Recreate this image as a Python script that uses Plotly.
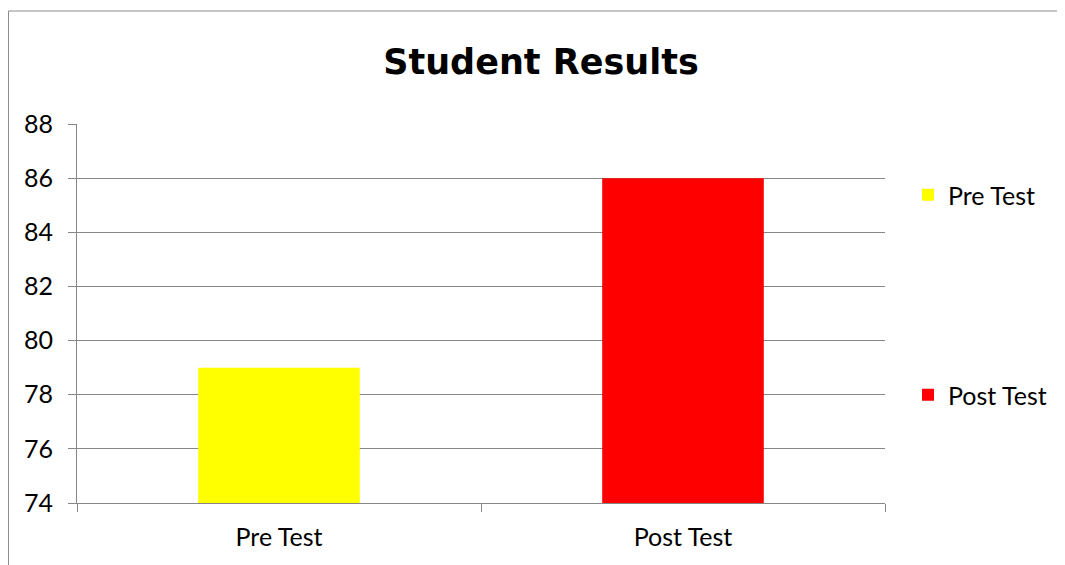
import plotly.graph_objects as go

categories = ["Pre Test", "Post Test"]
values = [79, 86]
colors = ["#FFFF00", "#FF0000"]
y_ticks = [74, 76, 78, 80, 82, 84, 86, 88]

# page body has an 8px margin; work in reference-pixel coordinates
OFF = 8
W, H = 1065 - OFF, 565 - OFF
L, R, T, B = 77, 885, 124, 503   # plot area in reference pixels
pw, ph = R - L, B - T

def px(x):
    return (x - L) / pw

def py(y):
    return (B - y) / ph

FONT = "Lato"
FS = 25

fig = go.Figure()
fig.add_trace(go.Bar(x=[categories[0]], y=[values[0]], name=categories[0],
                     marker=dict(color=colors[0], line=dict(width=0)),
                     legend="legend"))
fig.add_trace(go.Bar(x=[categories[1]], y=[values[1]], name=categories[1],
                     marker=dict(color=colors[1], line=dict(width=0)),
                     legend="legend2"))

fig.update_layout(
    width=W, height=H,
    margin=dict(l=L - OFF, r=1065 - R, t=T - OFF, b=565 - B),
    paper_bgcolor="white", plot_bgcolor="white",
    showlegend=True,
    barmode="overlay", bargap=0.6,
    font=dict(family=FONT, size=FS, color="#000000"),
    title=dict(text="<b>Student Results</b>", x=px(541), xref="paper",
               xanchor="center", y=1 - (62 - OFF) / H, yanchor="middle",
               font=dict(family="DejaVu Sans", size=35, color="#000000")),
    xaxis=dict(showgrid=False, showline=True, linecolor="#868686", linewidth=1,
               ticks="outside", tickson="boundaries", ticklen=8, tickcolor="#868686",
               ticklabelstandoff=12, tickfont=dict(size=FS)),
    yaxis=dict(range=[74, 88], tickvals=y_ticks, showgrid=True, gridcolor="#868686",
               gridwidth=1, showline=True, linecolor="#868686", linewidth=1,
               ticks="outside", ticklen=8, tickcolor="#868686",
               ticklabelstandoff=10, zeroline=False, tickfont=dict(size=FS)),
    legend=dict(x=px(908), y=py(195), xanchor="left", yanchor="middle",
                font=dict(size=FS), bgcolor="rgba(0,0,0,0)", itemwidth=30),
    legend2=dict(x=px(908), y=py(395), xanchor="left", yanchor="middle",
                 font=dict(size=FS), bgcolor="rgba(0,0,0,0)", itemwidth=30),
    shapes=[dict(type="rect", xref="paper", yref="paper",
                 x0=px(8.5), x1=px(1090), y0=py(590), y1=py(11),
                 line=dict(color="#8c8c8c", width=1), layer="below")],
)

fig.write_html("out.html")
